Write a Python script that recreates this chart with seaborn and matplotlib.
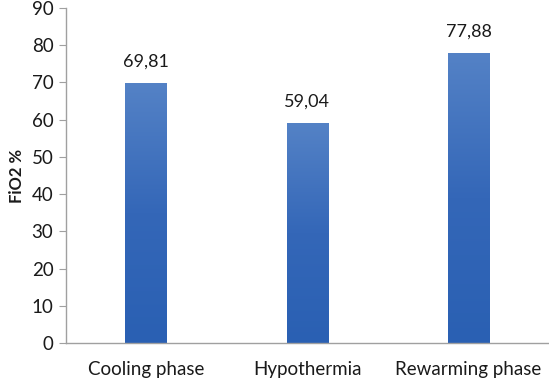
import numpy as np
import pandas as pd
import matplotlib
matplotlib.use("Agg")
import matplotlib.pyplot as plt
import seaborn as sns
from matplotlib.colors import LinearSegmentedColormap

# data
phases = ["Cooling phase", "Hypothermia", "Rewarming phase"]
fio2_values = [69.81, 59.04, 77.88]
y_ticks = [0, 10, 20, 30, 40, 50, 60, 70, 80, 90]

df = pd.DataFrame({"phase": phases, "fio2": fio2_values})

sns.set_style("white")
plt.rcParams["font.family"] = ["Lato", "DejaVu Sans"]

fig = plt.figure(figsize=(5.49, 3.80), dpi=100)
ax = fig.add_axes([0.120, 0.097, 0.880, 0.882])

sns.barplot(data=df, x="phase", y="fio2", color="#3a6dbd", width=0.26,
            saturation=1, ax=ax)

# vertical gradient on each bar, clipped to the bar patch
cmap = LinearSegmentedColormap.from_list("barblue", ["#2a60b3", "#3467b8", "#5482c6"])
grad = np.linspace(0, 1, 256).reshape(-1, 1)
for patch in ax.patches:
    x0, y0 = patch.get_x(), patch.get_y()
    w, h = patch.get_width(), patch.get_height()
    im = ax.imshow(grad, cmap=cmap, aspect="auto", origin="lower",
                   extent=[x0, x0 + w, y0, y0 + h], zorder=patch.get_zorder() + 0.1)
    im.set_clip_path(patch)

for patch, val in zip(ax.patches, fio2_values):
    ax.text(patch.get_x() + patch.get_width() / 2, val + 5.8,
            f"{val:.2f}".replace(".", ","), ha="center", va="center",
            fontsize=13, color="#1a1a1a")

ax.set_xlim(-0.5, 2.5)
ax.set_ylim(0, 90)
ax.set_yticks(y_ticks)
ax.set_xlabel("")
ax.set_ylabel("FiO2 %", fontsize=12, fontweight="bold", color="#1a1a1a", labelpad=5)

for side in ["top", "right"]:
    ax.spines[side].set_visible(False)
for side in ["left", "bottom"]:
    ax.spines[side].set_color("#a0a0a0")
    ax.spines[side].set_linewidth(1)

ax.tick_params(axis="y", left=True, length=5, color="#a0a0a0", labelsize=13.5,
               labelcolor="#1a1a1a", pad=4)
ax.tick_params(axis="x", bottom=False, labelsize=13.5, labelcolor="#1a1a1a", pad=9)

fig.savefig("out.png", dpi=100)
